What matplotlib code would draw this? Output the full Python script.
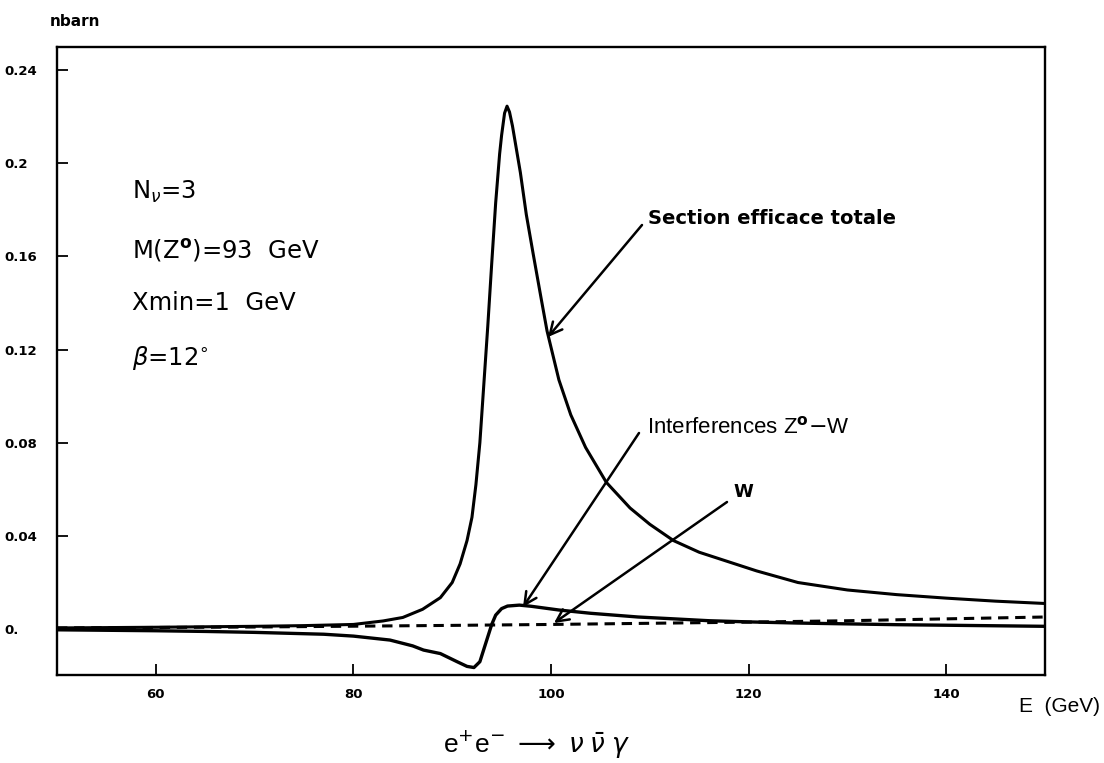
import matplotlib.pyplot as plt
from matplotlib.patches import FancyArrowPatch

# total cross section e+e- -> nu nubar gamma (nbarn) vs beam energy (GeV)
energy_tot = [50, 60, 70, 75, 80, 83, 85, 87, 88.8, 90, 90.8, 91.5, 92.0, 92.4, 92.8,
              93.2, 93.6, 94.0, 94.4, 94.8, 95.0, 95.3, 95.55, 95.8, 96.1, 96.5, 96.9,
              97.5, 98.2, 99.0, 99.6, 100.8, 102, 103.5, 105.6, 108, 110, 112.4, 115,
              120.8, 125, 130, 135, 140, 145, 150]
sigma_tot = [0.0005, 0.0008, 0.0012, 0.0015, 0.002, 0.0035, 0.005, 0.0085, 0.0135, 0.020,
             0.028, 0.038, 0.048, 0.062, 0.080, 0.105, 0.130, 0.157, 0.183, 0.204, 0.212,
             0.2215, 0.2245, 0.222, 0.216, 0.206, 0.196, 0.178, 0.161, 0.142, 0.128,
             0.107, 0.092, 0.078, 0.063, 0.052, 0.045, 0.038, 0.033, 0.025, 0.020,
             0.0168, 0.0148, 0.0133, 0.0120, 0.0110]

# Z0-W interference term
energy_int = [50, 60, 65, 70, 77, 80, 83.7, 86, 87.1, 88.8, 90.5, 91.5, 92.2, 92.8, 93.4,
              94.0, 94.4, 95.0, 95.6, 96.8, 98, 100.8, 104, 108.8, 112, 116, 120, 125,
              135, 150]
sigma_int = [-0.0003, -0.0007, -0.0010, -0.0014, -0.0022, -0.0030, -0.0047, -0.0072,
             -0.0090, -0.0105, -0.0140, -0.0160, -0.0165, -0.0140, -0.0060, 0.0020,
             0.0060, 0.0088, 0.0099, 0.0103, 0.0098, 0.0082, 0.0068, 0.0052, 0.0045,
             0.0036, 0.0031, 0.0026, 0.0019, 0.0012]

# pure W exchange
energy_w = [50, 70, 90, 100, 110, 120, 130, 140, 150]
sigma_w = [0.0005, 0.0009, 0.0016, 0.0020, 0.0025, 0.0030, 0.0036, 0.0044, 0.0052]

yticks = [0.0, 0.04, 0.08, 0.12, 0.16, 0.2, 0.24]
ytick_labels = ["0.", "0.04", "0.08", "0.12", "0.16", "0.2", "0.24"]
xticks = [60, 80, 100, 120, 140]

W, H = 1104, 763


def fx(px):
    return px / W


def fy(py):
    return 1 - py / H


fig = plt.figure(figsize=(W / 100, H / 100), dpi=100)
ax = fig.add_axes([fx(57), fy(675), (1045 - 57) / W, (675 - 47) / H])

ax.plot(energy_tot, sigma_tot, color="black", lw=2.2, solid_joinstyle="round")
ax.plot(energy_int, sigma_int, color="black", lw=2.4, solid_joinstyle="round")
ax.plot(energy_w, sigma_w, color="black", lw=2.2, dashes=(3.4, 2.2))

ax.set_xlim(50, 150)
ax.set_ylim(-0.0197, 0.2499)

for s in ["top", "bottom", "left", "right"]:
    ax.spines[s].set_linewidth(1.7)

ax.set_xticks(xticks)
ax.set_xticklabels([str(t) for t in xticks], fontsize=9.5, fontweight="bold")
ax.set_yticks(yticks)
ax.set_yticklabels(ytick_labels, fontsize=9.5, fontweight="bold", ha="left")
ax.tick_params(axis="both", direction="in", length=8, width=1.3, top=False, right=False)
ax.tick_params(axis="x", pad=9)
ax.tick_params(axis="y", pad=38)

bold_font = "DejaVu Sans"
fig.text(fx(50), fy(22), "nbarn", fontsize=11, fontweight="bold", family=bold_font,
         va="center", ha="left")

# run parameters
params = [r"N$_{\nu}$=3", r"M(Z$^{\mathbf{o}}$)=93  GeV", "Xmin=1  GeV", r"$\beta$=12$^{\circ}$"]
for txt, py in zip(params, [192, 250, 303, 358]):
    fig.text(fx(132), fy(py), txt, fontsize=17.5, family="DejaVu Sans",
             va="center", ha="left")

fig.text(fx(648), fy(218), "Section efficace totale", fontsize=14, fontweight="bold",
         family=bold_font, va="center", ha="left")
fig.text(fx(647), fy(427), r"Interferences Z$^{\mathbf{o}}$$-$W", fontsize=16,
         family="Liberation Sans", va="center", ha="left")
fig.text(fx(733), fy(492), "W", fontsize=13, fontweight="bold", family=bold_font,
         va="center", ha="left")

arrow = dict(arrowstyle="->", lw=1.8, color="black", mutation_scale=22, shrinkA=0, shrinkB=0)
for (x0, y0), (x1, y1) in [((642, 225), (548, 337)),
                           ((639, 433), (523, 607)),
                           ((727, 502), (554, 623))]:
    fig.add_artist(FancyArrowPatch((fx(x0), fy(y0)), (fx(x1), fy(y1)),
                                   transform=fig.transFigure, **arrow))

fig.text(fx(1100), fy(706), "E  (GeV)", fontsize=15, family="Liberation Sans",
         va="center", ha="right")
fig.text(fx(537), fy(745), r"e$^{+}$e$^{-}$ $\longrightarrow$ $\nu\;\bar{\nu}\;\gamma$",
         fontsize=19, family="Liberation Sans", va="center", ha="center")

fig.savefig("out.png", dpi=100)
